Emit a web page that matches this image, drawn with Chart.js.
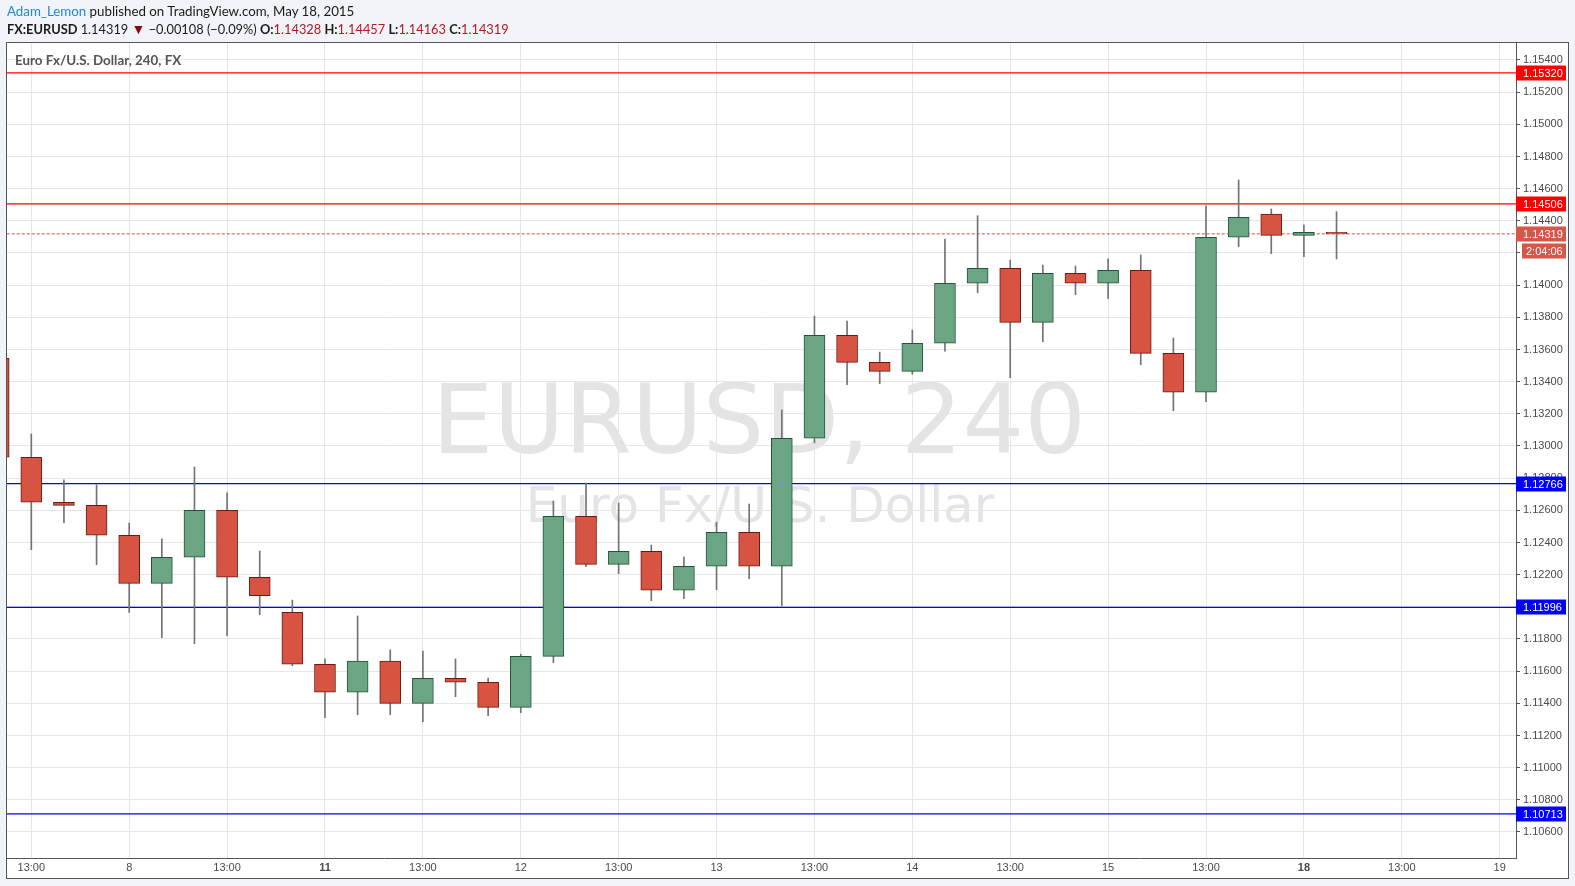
<!DOCTYPE html>
<html>
<head>
<meta charset="utf-8">
<script src="https://cdn.jsdelivr.net/npm/chart.js@4/dist/chart.umd.min.js"></script>
<style>
  html, body { margin:0; padding:0; background:#f0f3f7; width:1575px; height:886px; overflow:hidden; }
  #c { position:absolute; left:0; top:0; }
  .hd { position:absolute; font-family: Lato, "Open Sans", sans-serif; font-size:13px; line-height:16px; color:#1a1a1a; white-space:nowrap; }
  .b { font-weight:bold; }
  .v { color:#b3191f; }
</style>
</head>
<body>
<canvas id="c" width="1575" height="886"></canvas>
<div class="hd" style="left:7px; top:3px; font-size:13.3px;"><span style="color:#1d8ad2;">Adam_Lemon</span> published on TradingView.com, May 18, 2015</div>
<div class="hd" style="left:7px; top:21px; font-size:12.8px;"><span class="b">FX:EURUSD</span> 1.14319 <span style="color:#8b0b0b; font-size:14px;">▼</span> −0.00108 (−0.09%) <span class="b">O:</span><span class="v">1.14328</span> <span class="b">H:</span><span class="v">1.14457</span> <span class="b">L:</span><span class="v">1.14163</span> <span class="b">C:</span><span class="v">1.14319</span></div>
<div class="hd" style="left:15px; top:52px; font-size:13.4px; font-weight:bold; color:#555;">Euro Fx/U.S. Dollar, 240, FX</div>
<script>
// ---- data ----
const barTimes = [
  '05-07 09:00','05-07 13:00','05-07 17:00','05-07 21:00',
  '05-08 01:00','05-08 05:00','05-08 09:00','05-08 13:00','05-08 17:00','05-08 21:00',
  '05-11 01:00','05-11 05:00','05-11 09:00','05-11 13:00','05-11 17:00','05-11 21:00',
  '05-12 01:00','05-12 05:00','05-12 09:00','05-12 13:00','05-12 17:00','05-12 21:00',
  '05-13 01:00','05-13 05:00','05-13 09:00','05-13 13:00','05-13 17:00','05-13 21:00',
  '05-14 01:00','05-14 05:00','05-14 09:00','05-14 13:00','05-14 17:00','05-14 21:00',
  '05-15 01:00','05-15 05:00','05-15 09:00','05-15 13:00','05-15 17:00','05-15 21:00',
  '05-18 01:00','05-18 05:00'
];
const opens = [1.13545,1.12930,1.12650,1.12631,1.12445,1.12146,1.12308,1.12600,1.12184,1.11966,
  1.11643,1.11469,1.11663,1.11400,1.11556,1.11531,1.11375,1.11692,1.12563,1.12264,
  1.12345,1.12103,1.12252,1.12463,1.12252,1.13048,1.13688,1.13520,1.13464,1.13639,
  1.14012,1.14105,1.13769,1.14074,1.14012,1.14092,1.13576,1.13334,1.14298,1.14442,
  1.14310,1.14328];
const highs = [1.13560,1.13075,1.12789,1.12759,1.12521,1.12422,1.12869,1.12708,1.12347,1.12042,
  1.11676,1.11943,1.11732,1.11725,1.11676,1.11557,1.11705,1.12658,1.12770,1.12646,
  1.12384,1.12310,1.12526,1.12639,1.13224,1.13808,1.13777,1.13584,1.13721,1.14287,
  1.14432,1.14156,1.14125,1.14119,1.14163,1.14188,1.13671,1.14494,1.14654,1.14474,
  1.14374,1.14457];
const lows = [1.12900,1.12355,1.12523,1.12262,1.11964,1.11808,1.11771,1.11820,1.11951,1.11634,
  1.11311,1.11329,1.11329,1.11286,1.11441,1.11323,1.11342,1.11653,1.12250,1.12206,
  1.12038,1.12051,1.12107,1.12175,1.12007,1.13020,1.13381,1.13387,1.13446,1.13589,
  1.13953,1.13425,1.13648,1.13941,1.13916,1.13505,1.13219,1.13275,1.14239,1.14196,
  1.14177,1.14163];
const closes = [1.12930,1.12650,1.12631,1.12445,1.12146,1.12308,1.12600,1.12184,1.12069,1.11643,
  1.11469,1.11663,1.11400,1.11556,1.11531,1.11375,1.11692,1.12563,1.12264,1.12345,
  1.12103,1.12252,1.12463,1.12252,1.13048,1.13688,1.13520,1.13464,1.13639,1.14012,
  1.14105,1.13769,1.14074,1.14012,1.14092,1.13576,1.13334,1.14298,1.14422,1.14310,
  1.14328,1.14319];
const firstSlot = -1;              // first bar sits one slot left of the first time label
const xTickSlots = [0,3,6,9,12,15,18,21,24,27,30,33,36,39,42,45];
const xTickLabels = ['13:00','8','13:00','11','13:00','12','13:00','13','13:00','14','13:00','15','13:00','18','13:00','19'];
const xBoldLabels = ['11','18'];
const yTickValues = [1.106,1.108,1.110,1.112,1.114,1.116,1.118,1.120,1.122,1.124,1.126,1.128,1.130,
  1.132,1.134,1.136,1.138,1.140,1.142,1.144,1.146,1.148,1.150,1.152,1.154];
const levelValues = [1.15320, 1.14506, 1.12766, 1.11996, 1.10713];
const levelColors = ['#ff0000','#ff0000','#0000ff','#0000ff','#0000ff'];
const lastPrice = 1.14319;
const countdown = '2:04:06';

// ---- styling ----
const UP_FILL = '#6ba583', UP_EDGE = '#225437';
const DN_FILL = '#d75442', DN_EDGE = '#6f1711';
const WICK = '#737375';
const LAST_COLOR = '#d6564a';
const AX = '#555555';

const slot = i => firstSlot + i;
const bodies = opens.map((o,i) => ({x: slot(i), y: [o, closes[i]]}));
const wicks = lows.map((l,i) => ({x: slot(i), y: [l, highs[i]]}));
const isUp = opens.map((o,i) => closes[i] >= o);

const XMIN = -0.745, XMAX = 45.50, YMIN = 1.104382, YMAX = 1.155057;

const levelDatasets = levelValues.map((v,k) => ({
  type: 'line', data: [{x: XMIN - 2, y: v}, {x: XMAX + 2, y: v}],
  borderColor: levelColors[k], borderWidth: 1.3, pointRadius: 0, order: 3
}));
levelDatasets.push({
  type: 'line', data: [{x: XMIN - 2, y: lastPrice}, {x: XMAX + 2, y: lastPrice}],
  borderColor: '#e0483a', borderWidth: 1, borderDash: [3,2], pointRadius: 0, order: 3
});

const decor = {
  id: 'decor',
  beforeDraw(chart) {
    const ctx = chart.ctx;
    ctx.save();
    ctx.fillStyle = '#ffffff';
    ctx.fillRect(6.5, 42.5, 1562, 836);
    // watermark
    ctx.fillStyle = '#e4e4e4';
    ctx.textAlign = 'center';
    ctx.textBaseline = 'alphabetic';
    ctx.font = '97px "DejaVu Sans"';
    ctx.fillText('EURUSD, 240', 759, 453);
    ctx.font = '50px "DejaVu Sans"';
    ctx.fillText('Euro Fx/U.S. Dollar', 760, 522);
    ctx.restore();
  },
  afterDraw(chart) {
    const ctx = chart.ctx, y = chart.scales.y, a = chart.chartArea;
    ctx.save();
    // outer frame
    ctx.strokeStyle = AX; ctx.lineWidth = 1;
    ctx.strokeRect(6.5, 42.5, 1562, 836);
    ctx.font = '11px "Liberation Sans"';
    ctx.textBaseline = 'middle';
    ctx.textAlign = 'left';
    const box = (val, color, text, x0) => {
      const py = y.getPixelForValue(val);
      ctx.fillStyle = color;
      ctx.fillRect(x0, Math.round(py) - 7.5, 1566 - x0, 15);
      ctx.fillStyle = '#ffffff';
      ctx.fillText(text, 1523, Math.round(py) + 0.5);
      return py;
    };
    levelValues.forEach((v,k) => box(v, levelColors[k], v.toFixed(5), a.right));
    const py = y.getPixelForValue(lastPrice);
    ctx.fillStyle = LAST_COLOR;
    ctx.fillRect(a.right, Math.round(py) - 7.5, 1566 - a.right, 15);
    ctx.fillRect(1522, Math.round(py) + 9.5, 44, 15);
    ctx.fillStyle = '#ffffff';
    ctx.fillText(lastPrice.toFixed(5), 1523, Math.round(py) + 0.5);
    ctx.fillText(countdown, 1526, Math.round(py) + 17.5);
    ctx.restore();
  }
};

new Chart(document.getElementById('c'), {
  type: 'bar',
  data: {
    datasets: [
      { data: bodies, barThickness: 21, grouped: false, borderWidth: 1, borderSkipped: false,
        backgroundColor: isUp.map(u => u ? UP_FILL : DN_FILL),
        borderColor: isUp.map(u => u ? UP_EDGE : DN_EDGE), order: 1 },
      { data: wicks, barThickness: 1, grouped: false, borderWidth: 0,
        backgroundColor: WICK, order: 2 },
      ...levelDatasets
    ]
  },
  options: {
    responsive: false,
    animation: false,
    events: [],
    layout: { padding: { left: 7, right: 6, top: 43, bottom: 8 } },
    plugins: { legend: { display: false }, tooltip: { enabled: false } },
    scales: {
      x: {
        type: 'linear', min: XMIN, max: XMAX, offset: false,
        grid: { color: '#e6e6e6', offset: false, drawTicks: false },
        border: { display: true, color: AX, width: 1 },
        afterBuildTicks: s => { s.ticks = xTickSlots.map(v => ({ value: v })); },
        afterFit: s => { s.height = 20; },
        ticks: {
          autoSkip: false, maxRotation: 0, padding: 3, color: '#4a4a4a',
          font: ctx => ({ family: '"Liberation Sans"', size: 11,
            weight: (ctx.tick && xBoldLabels.includes(ctx.tick.label)) ? 'bold' : 'normal' }),
          callback: (v, i) => xTickLabels[i]
        }
      },
      y: {
        type: 'linear', position: 'right', min: YMIN, max: YMAX,
        grid: { color: '#e6e6e6', tickColor: AX, tickLength: 4, drawTicks: true },
        border: { display: true, color: AX, width: 1 },
        afterBuildTicks: s => { s.ticks = yTickValues.map(v => ({ value: v })); },
        afterFit: s => { s.width = 53; },
        ticks: {
          padding: 3, color: '#4a4a4a', font: { family: '"Liberation Sans"', size: 11 },
          callback: v => v.toFixed(5)
        }
      }
    }
  },
  plugins: [decor]
});
</script>
</body>
</html>
